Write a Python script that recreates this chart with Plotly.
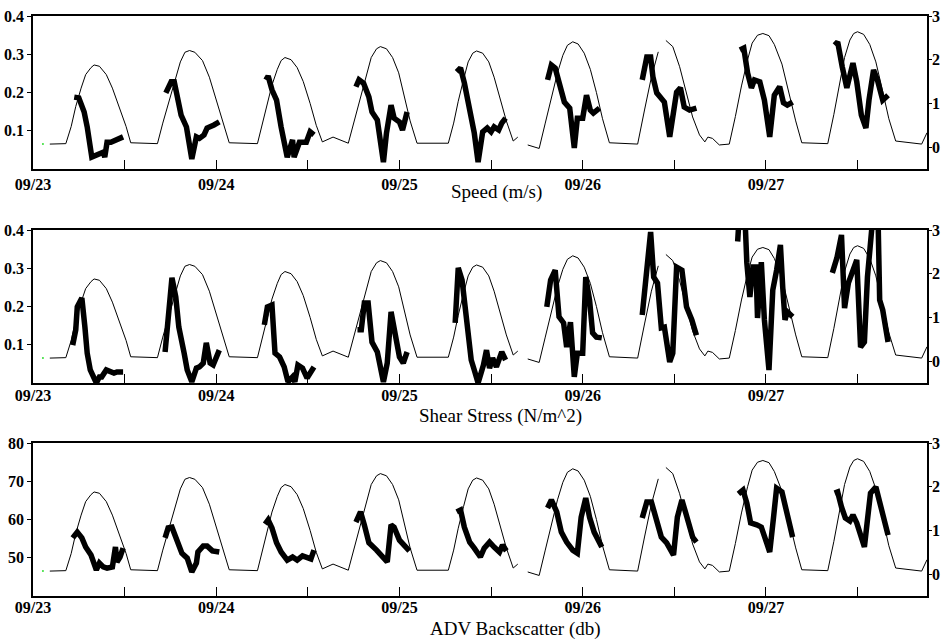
import plotly.graph_objects as go

# ---------------- data (hours since 09/23 00:00) ----------------
tick_hours = [0, 12, 24, 36, 48, 60, 72, 84, 96, 108]
tick_labels = ["09/23", "", "09/24", "", "09/25", "", "09/26", "", "09/27", ""]

depth_hours = [2.2, 4.3, 5.0, 5.6, 6.3, 6.9, 7.6, 8.0, 8.7, 9.6, 10.4, 11.3, 12.2, 12.8,
               16.3, 17.0, 17.8, 18.6, 19.3, 19.9, 20.5, 21.2, 22.2, 23.1, 24.0, 24.9, 25.7,
               29.4, 30.0, 30.7, 31.3, 32.0, 32.5, 33.0, 33.8, 34.6, 35.4, 36.3, 37.1, 37.9,
               39.3, 41.3, 42.1, 42.9, 43.7, 44.3, 45.0, 45.5, 46.3, 47.1, 47.9, 48.6, 49.4, 50.3,
               54.4, 55.1, 55.7, 56.4, 57.0, 57.6, 58.1, 58.9, 59.7, 60.4, 61.2, 62.0, 62.9, 63.5,
               None,
               64.8, 66.3, 67.1, 67.9, 68.7, 69.4, 70.0, 70.7, 71.4, 72.2, 73.0, 73.8, 74.6, 75.5,
               79.2, 80.1, 81.0, 81.9,
               None,
               82.9, 83.8, 84.7, 85.6, 86.4, 87.3, 88.0, 88.4, 89.0, 89.9, 91.2,
               92.0, 92.8, 93.6, 94.2, 94.9, 95.6, 96.4, 97.1, 98.1, 99.0, 99.9, 100.7,
               104.1, 104.9, 105.7, 106.3, 107.0, 107.5, 108.0, 108.8, 109.6, 110.4, 111.2, 112.1, 113.0,
               114.8, 116.4, 117.1]
depth = [0.07, 0.08, 0.47, 0.93, 1.35, 1.66, 1.82, 1.88, 1.85, 1.66, 1.35, 0.93, 0.47, 0.10,
         0.08, 0.55, 1.05, 1.55, 1.95, 2.17, 2.21, 2.17, 1.98, 1.60, 1.10, 0.55, 0.10,
         0.08, 0.50, 0.95, 1.42, 1.78, 1.98, 2.05, 2.00, 1.82, 1.50, 1.00, 0.50, 0.12,
         0.23, 0.09, 0.60, 1.15, 1.68, 2.05, 2.25, 2.30, 2.25, 2.05, 1.70, 1.20, 0.60, 0.09,
         0.09, 0.55, 1.05, 1.55, 1.95, 2.15, 2.20, 2.15, 1.95, 1.60, 1.10, 0.60, 0.14, 0.23,
         None,
         0.05, -0.03, 0.55, 1.15, 1.70, 2.10, 2.33, 2.41, 2.36, 2.15, 1.78, 1.25, 0.65, 0.10,
         0.07, 0.85, 1.60, 2.18,
         None,
         2.44, 2.30, 1.84, 1.24, 0.69, 0.28, 0.12, 0.23, 0.20, 0.05, 0.07,
         0.70, 1.40, 2.00, 2.38, 2.56, 2.60, 2.55, 2.35, 1.90, 1.25, 0.60, 0.10,
         0.08, 0.75, 1.50, 2.05, 2.45, 2.60, 2.64, 2.58, 2.35, 1.95, 1.35, 0.65, 0.14,
         0.10, 0.07, 0.33]

speed_hours = [5.4, 6.0, 6.7, 7.1, 7.7, 8.7, 9.2, 9.4, 9.7, 10.2, 10.9, 11.8, None,
               17.4, 18.1, 18.5, 19.4, 20.1, 20.8, 21.4, 21.8, 22.4, 22.8, 23.7, 24.4, None,
               30.5, 30.8, 31.3, 31.9, 32.5, 33.3, 34.0, 34.2, 34.9, 35.8, 36.3, 36.8, None,
               42.3, 42.7, 43.3, 44.0, 44.4, 45.1, 45.9, 46.3, 46.9, 47.3, 48.0, 48.4, 49.0, None,
               55.5, 56.0, 56.5, 57.2, 57.8, 58.3, 58.9, 59.5, 60.0, 60.4, 61.0, 61.4, 61.9, None,
               67.4, 67.9, 68.4, 69.0, 69.6, 70.3, 70.9, 71.3, 72.0, 72.5, 73.0, 73.4, 74.2, None,
               79.8, 80.4, 80.9, 81.2, 81.7, 82.3, 82.7, 83.4, 83.8, 84.3, 84.8, 85.3, 86.0, 86.9, None,
               92.6, 93.1, 93.6, 94.1, 94.5, 95.2, 95.8, 96.5, 97.1, 97.8, 98.3, 98.8, 99.5, None,
               105.0, 105.4, 106.0, 106.6, 107.4, 107.9, 108.5, 109.1, 109.5, 110.1, 110.6, 111.3, 112.0]
speed = [0.188, 0.186, 0.149, 0.110, 0.031, 0.042, 0.044, 0.031, 0.070, 0.070, 0.076, 0.084, None,
         0.199, 0.228, 0.228, 0.141, 0.110, 0.026, 0.084, 0.080, 0.089, 0.107, 0.115, 0.123, None,
         0.233, 0.243, 0.207, 0.180, 0.110, 0.031, 0.076, 0.031, 0.070, 0.070, 0.097, 0.089, None,
         0.215, 0.233, 0.224, 0.188, 0.149, 0.128, 0.018, 0.094, 0.167, 0.133, 0.123, 0.102, 0.149, None,
         0.254, 0.264, 0.225, 0.154, 0.094, 0.018, 0.097, 0.107, 0.097, 0.110, 0.102, 0.120, 0.133, None,
         0.233, 0.272, 0.264, 0.215, 0.175, 0.159, 0.055, 0.133, 0.133, 0.193, 0.154, 0.146, 0.159, None,
         0.233, 0.293, 0.293, 0.241, 0.199, 0.186, 0.175, 0.084, 0.136, 0.201, 0.212, 0.162, 0.154, 0.159, None,
         0.311, 0.316, 0.251, 0.212, 0.233, 0.228, 0.180, 0.084, 0.193, 0.215, 0.173, 0.167, 0.175, None,
         0.324, 0.332, 0.267, 0.212, 0.277, 0.228, 0.141, 0.107, 0.180, 0.259, 0.233, 0.180, 0.193]

shear_hours = [5.2, 5.6, 5.8, 6.4, 6.8, 7.1, 7.5, 8.3, 8.7, 9.0, 9.6, 10.2, 10.6, 11.0, 11.8, None,
               17.3, 17.7, 18.2, 18.7, 19.1, 19.8, 20.2, 20.8, 21.4, 21.8, 22.3, 22.7, 23.2, 23.6, 24.4, None,
               30.3, 30.7, 31.3, 31.7, 32.3, 32.9, 33.4, 34.0, 34.3, 34.7, 35.3, 35.9, 36.8, None,
               42.5, 43.0, 43.4, 43.9, 44.4, 45.1, 45.9, 46.4, 46.9, 47.5, 48.0, 48.5, 49.0, None,
               55.3, 55.7, 56.2, 56.8, 57.4, 57.8, 58.3, 59.0, 59.4, 59.8, 60.2, 60.7, 61.4, 61.9, None,
               67.3, 67.8, 68.4, 68.9, 69.5, 69.9, 70.4, 70.9, 71.3, 72.0, 72.4, 72.9, 73.3, 73.8, 74.5, None,
               79.8, 80.4, 80.9, 81.3, 81.8, 82.3, 82.7, 83.4, 83.8, 84.3, 85.0, 85.6, 86.3, 86.9, None,
               92.3, 92.7, 93.2, 93.5, 93.9, 94.3, 94.7, 94.9, 95.4, 95.8, 96.4, 96.9, 97.4, 97.9, 98.2, 98.5, 98.8, 99.5, None,
               104.7, 105.3, 105.9, 106.3, 106.8, 107.4, 107.9, 108.4, 108.9, 109.3, 109.8, 110.3, 110.7, 110.9, 111.3, 112.0]
shear = [0.099, 0.139, 0.199, 0.222, 0.146, 0.078, 0.034, 0.000, 0.016, 0.016, 0.034, 0.029, 0.026, 0.029, 0.029, None,
         0.081, 0.183, 0.275, 0.225, 0.146, 0.078, 0.034, 0.003, 0.039, 0.042, 0.052, 0.105, 0.052, 0.047, 0.086, None,
         0.152, 0.199, 0.204, 0.078, 0.068, 0.042, 0.003, 0.016, 0.003, 0.047, 0.039, 0.013, 0.042, None,
         0.139, 0.139, 0.209, 0.209, 0.107, 0.081, 0.003, 0.052, 0.186, 0.120, 0.068, 0.052, 0.081, None,
         0.157, 0.301, 0.269, 0.170, 0.060, 0.034, 0.000, 0.047, 0.086, 0.039, 0.065, 0.042, 0.081, 0.060, None,
         0.199, 0.269, 0.295, 0.173, 0.157, 0.094, 0.159, 0.016, 0.078, 0.078, 0.277, 0.217, 0.131, 0.120, 0.118, None,
         0.178, 0.303, 0.395, 0.277, 0.261, 0.144, 0.146, 0.055, 0.078, 0.303, 0.295, 0.199, 0.165, 0.125, None,
         0.370, 0.500, 0.460, 0.314, 0.225, 0.303, 0.303, 0.170, 0.316, 0.165, 0.034, 0.243, 0.295, 0.361, 0.251, 0.165, 0.186, 0.173, None,
         0.288, 0.327, 0.387, 0.196, 0.261, 0.295, 0.322, 0.094, 0.107, 0.277, 0.450, 0.500, 0.420, 0.217, 0.191, 0.107]

adv_hours = [5.2, 5.8, 6.4, 6.9, 7.6, 8.3, 8.7, 9.2, 9.7, 10.4, 10.8, 11.0, 11.4, 11.8, None,
             17.3, 17.7, 18.2, 18.9, 19.5, 20.2, 20.8, 21.4, 21.6, 22.3, 22.8, 23.5, 24.4, None,
             30.4, 30.8, 31.3, 31.9, 32.5, 33.3, 34.0, 34.6, 35.3, 35.9, 36.4, 36.8, None,
             42.3, 42.9, 43.4, 44.0, 45.0, 45.8, 46.4, 46.9, 47.3, 48.0, 48.6, 49.3, None,
             55.5, 56.0, 56.5, 57.2, 57.8, 58.6, 59.1, 59.8, 60.4, 61.1, 61.5, 62.0, None,
             67.4, 67.9, 68.6, 69.2, 69.9, 70.7, 71.3, 71.8, 72.4, 72.9, 73.5, 74.5, None,
             79.8, 80.4, 81.0, 81.7, 82.3, 83.0, 83.9, 84.4, 85.0, 85.5, 86.0, 86.4, 86.9, None,
             92.4, 93.0, 93.5, 94.0, 94.8, 95.4, 96.1, 96.5, 97.0, 97.4, 98.1, 98.7, 99.5, None,
             105.0, 105.4, 105.9, 106.4, 107.0, 107.4, 107.9, 108.5, 108.9, 109.3, 109.7, 110.4, 110.9, 111.5, 112.0]
adv = [55.2, 56.7, 55.2, 52.8, 50.7, 46.8, 48.6, 47.6, 47.3, 47.6, 52.8, 48.9, 50.2, 52.5, None,
       55.2, 57.8, 58.0, 53.9, 51.2, 49.9, 46.3, 48.6, 51.5, 53.1, 53.1, 51.8, 51.5, None,
       58.8, 59.9, 57.8, 53.9, 51.5, 49.4, 50.2, 49.4, 50.5, 50.2, 49.7, 52.0, None,
       59.3, 62.0, 58.6, 53.9, 52.0, 50.2, 48.9, 58.6, 58.0, 54.6, 53.3, 51.8, None,
       62.0, 62.5, 58.0, 54.1, 52.5, 50.2, 52.5, 54.1, 52.8, 51.5, 53.3, 51.8, None,
       63.0, 65.1, 62.0, 56.7, 54.1, 52.0, 51.2, 60.6, 65.6, 60.6, 56.7, 52.8, None,
       60.4, 64.6, 64.6, 59.9, 55.4, 53.9, 50.7, 60.6, 65.1, 61.7, 57.8, 55.4, 54.1, None,
       66.7, 67.7, 64.3, 59.1, 58.6, 58.0, 53.9, 51.5, 60.6, 68.2, 67.2, 61.7, 55.4, None,
       66.9, 67.2, 63.3, 60.4, 59.6, 61.2, 59.1, 55.4, 52.8, 59.9, 66.9, 68.5, 64.3, 59.9, 55.9]

green_dot_hours = [1.3]
green_dot_depth = [0.07]

panel_titles = ["Speed (m/s)", "Shear Stress (N/m^2)", "ADV Backscatter (db)"]
left_ranges = [[0, 0.4], [0, 0.4], [40, 80]]
left_ticks = [[0.1, 0.2, 0.3, 0.4], [0.1, 0.2, 0.3, 0.4], [50, 60, 70, 80]]
right_ticks = [0, 1, 2, 3]

# ---------------- figure ----------------
W, H = 941, 641
ML, MR, MT, MB = 33, 14, 16, 45
PH = H - MT - MB
PW = W - ML - MR
panels_px = [(16, 169), (230, 383), (443, 596)]   # top, bottom of plot area in px
title_px = [(497, 192), (500, 416), (515, 629)]
date_standoff = [0, -3, -4]

tick_font = dict(family="Liberation Serif", size=16, color="black", weight="bold")
series = [(speed_hours, speed), (shear_hours, shear), (adv_hours, adv)]

fig = go.Figure()
layout = dict(width=W, height=H, paper_bgcolor="white", plot_bgcolor="white",
              margin=dict(l=ML, r=MR, t=MT, b=MB, autoexpand=False),
              showlegend=False, hovermode=False)

for i in range(3):
    xn = "" if i == 0 else str(i + 1)
    yl = str(2 * i + 1) if i > 0 else ""
    yr = str(2 * i + 2)
    top, bot = panels_px[i]
    dom = [(H - MB - bot) / PH, (H - MB - top) / PH]

    fig.add_trace(go.Scatter(x=depth_hours, y=depth, mode="lines",
                             line=dict(color="black", width=1),
                             xaxis="x" + xn, yaxis="y" + yr, connectgaps=False))
    fig.add_trace(go.Scatter(x=green_dot_hours, y=green_dot_depth, mode="markers",
                             marker=dict(color="#33dd33", size=2),
                             xaxis="x" + xn, yaxis="y" + yr))
    hx, hy = series[i]
    fig.add_trace(go.Scatter(x=hx, y=hy, mode="lines",
                             line=dict(color="black", width=5.5),
                             xaxis="x" + xn, yaxis="y" + yl, connectgaps=False))

    layout["xaxis" + xn] = dict(domain=[0, 1], range=[0, 117.1], anchor="y" + yl,
                                tickmode="array", tickvals=tick_hours, ticktext=tick_labels,
                                ticks="inside", ticklen=9, tickwidth=1, tickcolor="black",
                                showline=True, linecolor="black", linewidth=1.5, mirror=True,
                                showgrid=False, zeroline=False, tickfont=tick_font,
                                automargin=False, ticklabelstandoff=date_standoff[i])
    layout["yaxis" + yl] = dict(domain=dom, range=left_ranges[i], anchor="x" + xn,
                                tickmode="array", tickvals=left_ticks[i],
                                ticks="outside", ticklen=4, tickcolor="black",
                                showline=True, linecolor="black", linewidth=1.5,
                                showgrid=False, zeroline=False, tickfont=tick_font,
                                automargin=False)
    layout["yaxis" + yr] = dict(overlaying="y" + yl, side="right", anchor="x" + xn,
                                range=[-0.5, 3], tickmode="array", tickvals=right_ticks,
                                ticks="outside", ticklen=3, tickcolor="black",
                                showline=True, linecolor="black", linewidth=1.5,
                                showgrid=False, zeroline=False, tickfont=tick_font,
                                automargin=False, ticklabelstandoff=-3)

fig.update_layout(**layout)

for i, t in enumerate(panel_titles):
    cx, cy = title_px[i]
    fig.add_annotation(text=t, x=(cx - ML) / PW, y=(H - MB - cy) / PH,
                       xref="paper", yref="paper",
                       xanchor="center", yanchor="middle", showarrow=False,
                       font=dict(family="Liberation Serif", size=19, color="black"))

fig.write_html("out.html", config={"displayModeBar": False},
               post_script="document.body.style.margin='0px';document.body.style.padding='0px';")
